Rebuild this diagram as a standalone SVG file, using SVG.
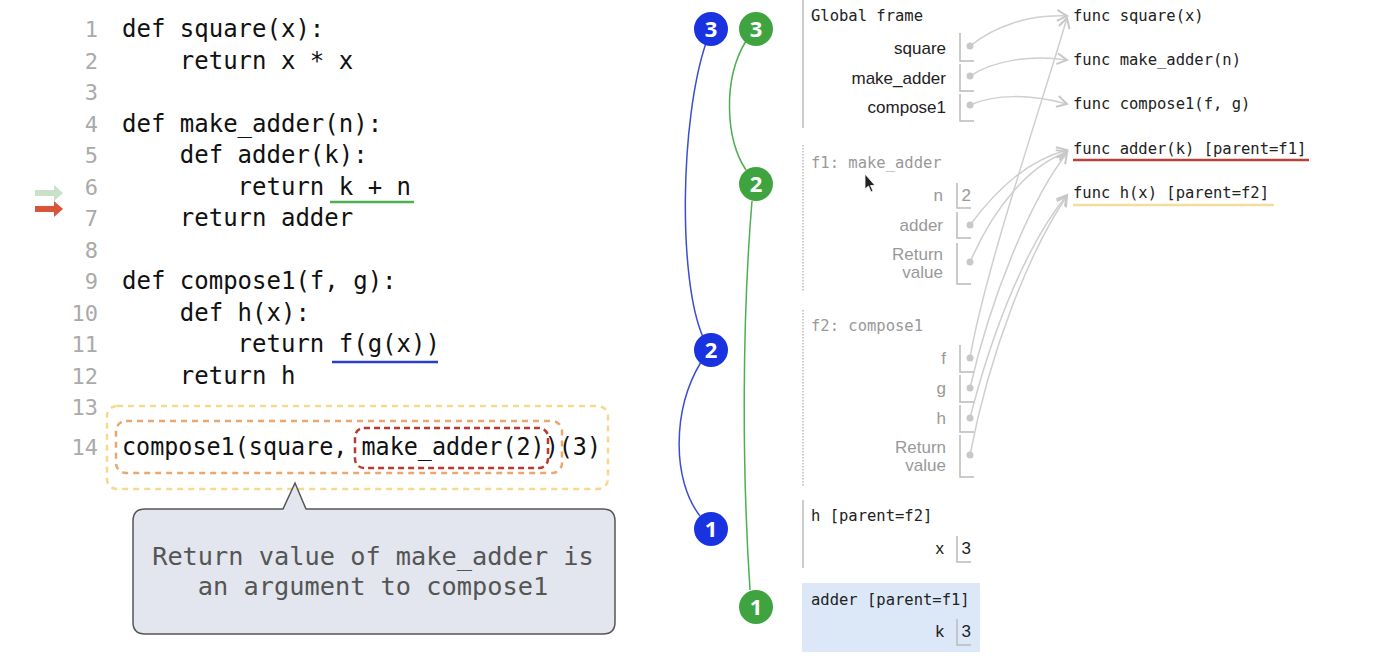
<svg xmlns="http://www.w3.org/2000/svg" width="1400" height="668" viewBox="0 0 1400 668">
<defs>
<marker id="ah" markerWidth="14" markerHeight="14" refX="11" refY="7" orient="auto" markerUnits="userSpaceOnUse">
<path d="M1,1.5 L11,7 L1,12.5" fill="none" stroke="#c8c8c8" stroke-width="2"/>
</marker>
</defs>
<style>
.code{font-family:"DejaVu Sans Mono","Liberation Mono",monospace;font-size:24px;fill:#111}
.ln{font-family:"DejaVu Sans Mono","Liberation Mono",monospace;font-size:22px;fill:#aaa;text-anchor:end}
.mono{font-family:"DejaVu Sans Mono","Liberation Mono",monospace;font-size:15.5px;fill:#222}
.mono.g{fill:#999}
.var{font-family:"Liberation Sans",Arial,sans-serif;font-size:17px;fill:#222;text-anchor:end}
.var.g{fill:#999}
.box{fill:none;stroke:#bbb;stroke-width:1.5}
.dot{fill:#c8c8c8}
.conn{fill:none;stroke:#cfcfcf;stroke-width:1.5}
.frame{stroke:#bbb;stroke-width:1.5}
.frame.d{stroke-dasharray:1.5 1.5}
.circ text{font-family:"Open Sans","DejaVu Sans",sans-serif;font-size:22px;font-weight:bold;fill:#fff;text-anchor:middle}
.cb{fill:#1a33e0}
.cg{fill:#3fa43f}
.note{font-family:"DejaVu Sans Mono","Liberation Mono",monospace;font-size:25.3px;fill:#555;text-anchor:middle}
</style>
<rect width="1400" height="668" fill="#fff"/>

<g id="code">
<text class="ln" x="98" y="37">1</text><text class="code" x="122" y="37">def square(x):</text>
<text class="ln" x="98" y="69">2</text><text class="code" x="122" y="69" xml:space="preserve">    return x * x</text>
<text class="ln" x="98" y="100">3</text>
<text class="ln" x="98" y="132">4</text><text class="code" x="122" y="132">def make_adder(n):</text>
<text class="ln" x="98" y="163">5</text><text class="code" x="122" y="163" xml:space="preserve">    def adder(k):</text>
<text class="ln" x="98" y="195">6</text><text class="code" x="122" y="195" xml:space="preserve">        return k + n</text>
<text class="ln" x="98" y="226">7</text><text class="code" x="122" y="226" xml:space="preserve">    return adder</text>
<text class="ln" x="98" y="258">8</text>
<text class="ln" x="98" y="289">9</text><text class="code" x="122" y="289">def compose1(f, g):</text>
<text class="ln" x="98" y="321">10</text><text class="code" x="122" y="321" xml:space="preserve">    def h(x):</text>
<text class="ln" x="98" y="352">11</text><text class="code" x="122" y="352" xml:space="preserve">        return f(g(x))</text>
<text class="ln" x="98" y="384">12</text><text class="code" x="122" y="384" xml:space="preserve">    return h</text>
<text class="ln" x="98" y="415">13</text>
<text class="ln" x="98" y="455">14</text><text class="code" x="122" y="455" textLength="479" lengthAdjust="spacingAndGlyphs">compose1(square, make_adder(2))(3)</text>
<line x1="330" y1="202" x2="414" y2="202" stroke="#4caf50" stroke-width="2.5"/>
<line x1="332" y1="362" x2="438" y2="362" stroke="#2b3fc4" stroke-width="2.5"/>
<path d="M35,190 H54 V185 L63,193 L54,201 V196 H35 Z" fill="#c9e0c9"/>
<path d="M35,206 H54 V201 L63,209 L54,217 V212 H35 Z" fill="#d9553a"/>
<rect x="107" y="406" width="501" height="83" rx="10" fill="none" stroke="#f5d98f" stroke-width="2.5" stroke-dasharray="6 5"/>
<rect x="116" y="421" width="446" height="52" rx="10" fill="none" stroke="#e8a870" stroke-width="2.5" stroke-dasharray="6 5"/>
<rect x="355" y="428" width="193" height="40" rx="9" fill="none" stroke="#b83a30" stroke-width="2.5" stroke-dasharray="6 4"/>
</g>

<g id="callout">
<path d="M145,509 H283 L295,483 L306,509 H603 Q615,509 615,521 V622 Q615,634 603,634 H145 Q133,634 133,622 V521 Q133,509 145,509 Z" fill="#e3e6ee" stroke="#555" stroke-width="1.5"/>
<text class="note" x="373" y="565">Return value of make_adder is</text>
<text class="note" x="373" y="595">an argument to compose1</text>
</g>

<g id="connectors">
<path d="M706,43 C680,120 678,280 703,337" fill="none" stroke="#3a4fd0" stroke-width="1.5"/>
<path d="M701,362 C672,410 672,480 700,516" fill="none" stroke="#3a4fd0" stroke-width="1.5"/>
<path d="M746,41 C722,80 726,140 746,170" fill="none" stroke="#4caf50" stroke-width="1.5"/>
<path d="M752,201 C742,320 742,470 750,590" fill="none" stroke="#4caf50" stroke-width="1.5"/>
<path class="conn" marker-end="url(#ah)" d="M970,46 C995,26 1030,14 1067,16"/>
<path class="conn" marker-end="url(#ah)" d="M970,76 C995,60 1030,55 1067,60"/>
<path class="conn" marker-end="url(#ah)" d="M970,105 C995,94 1030,94 1067,104"/>
<path class="conn" marker-end="url(#ah)" d="M970,225 C1000,185 1030,160 1067,150"/>
<path class="conn" marker-end="url(#ah)" d="M970,262 C995,205 1030,165 1067,152"/>
<path class="conn" marker-end="url(#ah)" d="M970,358 C985,270 1040,110 1067,18"/>
<path class="conn" marker-end="url(#ah)" d="M970,388 C990,300 1030,200 1067,153"/>
<path class="conn" marker-end="url(#ah)" d="M970,418 C995,320 1030,240 1067,195"/>
<path class="conn" marker-end="url(#ah)" d="M970,455 C990,350 1030,250 1067,196"/>
</g>

<g id="circles" class="circ">
<g id="b3"><circle class="cb" cx="711" cy="29" r="17"/><text x="711" y="37">3</text></g>
<g id="g3"><circle class="cg" cx="756" cy="29" r="17"/><text x="756" y="37">3</text></g>
<g id="g2"><circle class="cg" cx="756" cy="184" r="17"/><text x="756" y="192">2</text></g>
<g id="b2"><circle class="cb" cx="711" cy="350" r="17"/><text x="711" y="358">2</text></g>
<g id="b1"><circle class="cb" cx="711" cy="529" r="17"/><text x="711" y="537">1</text></g>
<g id="g1"><circle class="cg" cx="756" cy="607" r="17"/><text x="756" y="615">1</text></g>
</g>

<g id="global-frame">
<line class="frame" x1="803" y1="0" x2="803" y2="128"/>
<text class="mono" x="811" y="21">Global frame</text>
<text class="var" x="946" y="54">square</text>
<path class="box" d="M960,33 V61 H974"/><circle class="dot" cx="970" cy="46" r="3.5"/>
<text class="var" x="946" y="84">make_adder</text>
<path class="box" d="M960,64 V91 H974"/><circle class="dot" cx="970" cy="76" r="3.5"/>
<text class="var" x="946" y="113">compose1</text>
<path class="box" d="M960,94 V121 H974"/><circle class="dot" cx="970" cy="105" r="3.5"/>
</g>

<g id="f1-frame">
<line class="frame d" x1="803" y1="145" x2="803" y2="292"/>
<text class="mono g" x="811" y="168">f1: make_adder</text>
<text class="var g" x="943" y="201">n</text>
<path class="box" d="M957,183 V208 H971"/><text class="var g" x="971" y="201">2</text>
<text class="var g" x="943" y="231">adder</text>
<path class="box" d="M957,212 V238 H971"/><circle class="dot" cx="970" cy="225" r="3.5"/>
<text class="var g" x="943" y="260">Return</text>
<text class="var g" x="943" y="278">value</text>
<path class="box" d="M957,243 V284 H971"/><circle class="dot" cx="970" cy="262" r="3.5"/>
</g>

<g id="f2-frame">
<line class="frame d" x1="803" y1="310" x2="803" y2="486"/>
<text class="mono g" x="811" y="331">f2: compose1</text>
<text class="var g" x="946" y="364">f</text>
<path class="box" d="M960,345 V372 H974"/><circle class="dot" cx="970" cy="358" r="3.5"/>
<text class="var g" x="946" y="394">g</text>
<path class="box" d="M960,375 V402 H974"/><circle class="dot" cx="970" cy="388" r="3.5"/>
<text class="var g" x="946" y="424">h</text>
<path class="box" d="M960,405 V432 H974"/><circle class="dot" cx="970" cy="418" r="3.5"/>
<text class="var g" x="946" y="453">Return</text>
<text class="var g" x="946" y="471">value</text>
<path class="box" d="M960,435 V477 H974"/><circle class="dot" cx="970" cy="455" r="3.5"/>
</g>

<g id="h-frame">
<line class="frame" x1="803" y1="500" x2="803" y2="568"/>
<text class="mono" x="811" y="521">h [parent=f2]</text>
<text class="var" x="944" y="554">x</text>
<path class="box" d="M957,536 V562 H971"/><text class="var" x="971" y="554">3</text>
</g>

<g id="adder-frame">
<rect x="802" y="583" width="178" height="69" fill="#dce8f8"/>
<text class="mono" x="811" y="605">adder [parent=f1]</text>
<text class="var" x="944" y="637">k</text>
<path class="box" d="M957,619 V645 H971"/><text class="var" x="971" y="637">3</text>
</g>

<g id="funcs">
<text class="mono" x="1073" y="21">func square(x)</text>
<text class="mono" x="1073" y="65">func make_adder(n)</text>
<text class="mono" x="1073" y="109">func compose1(f, g)</text>
<text class="mono" x="1073" y="154">func adder(k) [parent=f1]</text>
<line x1="1073" y1="160" x2="1309" y2="160" stroke="#b8413a" stroke-width="2.5"/>
<text class="mono" x="1073" y="198">func h(x) [parent=f2]</text>
<line x1="1073" y1="205" x2="1274" y2="205" stroke="#f3dc9c" stroke-width="2.5"/>
</g>

<g id="cursor">
<path d="M865,174 V189 L868.5,186 L871,192 L873,191 L870.5,185.5 L875,185.5 Z" fill="#222" stroke="#fff" stroke-width="0.8"/>
</g>
</svg>
